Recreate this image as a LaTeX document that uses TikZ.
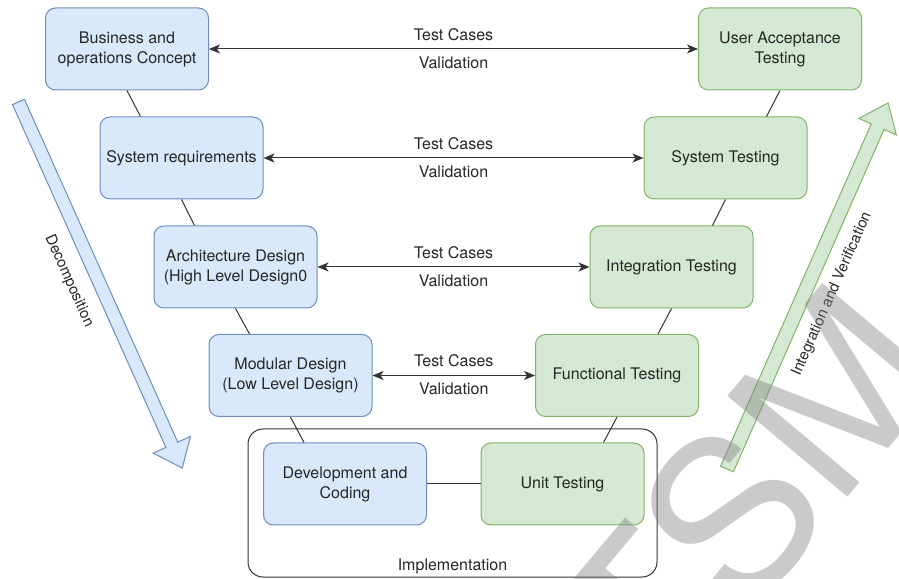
\documentclass[tikz,border=0pt]{standalone}
\usepackage{fontspec}
\setmainfont{TeX Gyre Heros}
\usepackage{xcolor}
\usetikzlibrary{arrows.meta,positioning}
\definecolor{blfill}{HTML}{DAE8FC}
\definecolor{bldraw}{HTML}{6C8EBF}
\definecolor{grfill}{HTML}{D5E8D4}
\definecolor{grdraw}{HTML}{82B366}

\begin{document}
\begin{tikzpicture}
		[x=1pt,y=1pt,
		phase/.style={rounded corners=10pt,line width=1pt,minimum width=163pt,minimum height=82pt,
			align=center,text=black!85,font=\fontsize{16}{20}\selectfont},
		design/.style={phase,draw=bldraw,fill=blfill},
		testing/.style={phase,draw=grdraw,fill=grfill},
		container/.style={draw=black!80,line width=1pt,rounded corners=15pt,minimum width=409pt,minimum height=148pt},
		lab/.style={text=black!85,font=\fontsize{16}{20}\selectfont,inner sep=0pt},
		link/.style={line width=1pt,draw=black!80},
		trace/.style={link,{Stealth[length=11pt,width=9pt,inset=3pt]}-{Stealth[length=11pt,width=9pt,inset=3pt]}}]
		\useasboundingbox (0,0) rectangle (899,578);
		\node[container] (impl) at (452.5,75) {};
		\node[lab] (impllab) at ([yshift=11pt]impl.south) {Implementation};
		\node[design] (bus) at (127,529) {Business and\\operations Concept};
		\node[design] (sysreq) at (181.5,420) {System requirements};
		\node[design] (arch) at (235.5,311) {Architecture Design\\(High Level Design0};
		\node[design] (modular) at (290.5,202.5) {Modular Design\\(Low Level Design)};
		\node[design] (dev) at (345,94) {Development and\\Coding};
		\node[testing] (unit) at (562.5,94) {Unit Testing};
		\node[testing] (func) at (617,202.5) {Functional Testing};
		\node[testing] (integ) at (671.5,311) {Integration Testing};
		\node[testing] (systest) at (725.5,420) {System Testing};
		\node[testing] (uat) at (780,529) {User Acceptance\\Testing};
		\foreach \a/\b in {bus/sysreq,sysreq/arch,arch/modular,modular/dev}
			\draw[link] (\a.south) -- ([xshift=-41pt]\b.north);
		\foreach \a/\b in {uat/systest,systest/integ,integ/func,func/unit}
			\draw[link] (\a.south) -- ([xshift=41pt]\b.north);
		\draw[link] (dev) -- (unit);
		\foreach \a/\b in {bus/uat,sysreq/systest,arch/integ,modular/func}
			\draw[trace] (\a) -- node[lab,above=8pt]{Test Cases} node[lab,below=7pt]{Validation} (\b);
		\begin{scope}[shift={(18.5,476)},rotate=-65.9]
			\draw[draw=bldraw,fill=blfill,line width=1pt]
			(0,6.5) -- (375.5,6.5) -- (375.5,20.5) -- (401,0) -- (375.5,-20.5) -- (375.5,-6.5) -- (0,-6.5) -- cycle;
		\end{scope}
		\begin{scope}[shift={(727,109)},rotate=66.25]
			\draw[draw=grdraw,fill=grfill,line width=1pt]
			(0,7) -- (374,7) -- (374,20.5) -- (400,0) -- (374,-20.5) -- (374,-7) -- (0,-7) -- cycle;
		\end{scope}
		\node[lab,font=\fontsize{15}{18}\selectfont,rotate=-65.9] (decomp) at (69,297) {Decomposition};
		\node[lab,font=\fontsize{15}{18}\selectfont,rotate=66.25] (intver) at (832,284) {Integration and Verification};
		\begin{scope}
			\clip (0,0) rectangle (899,578);
			\node[rotate=50,text=black!50,opacity=0.42,inner sep=0pt,font=\fontsize{215}{215}\selectfont] (mark) at (748,84) {TSM};
		\end{scope}
		\end{tikzpicture}
\end{document}
